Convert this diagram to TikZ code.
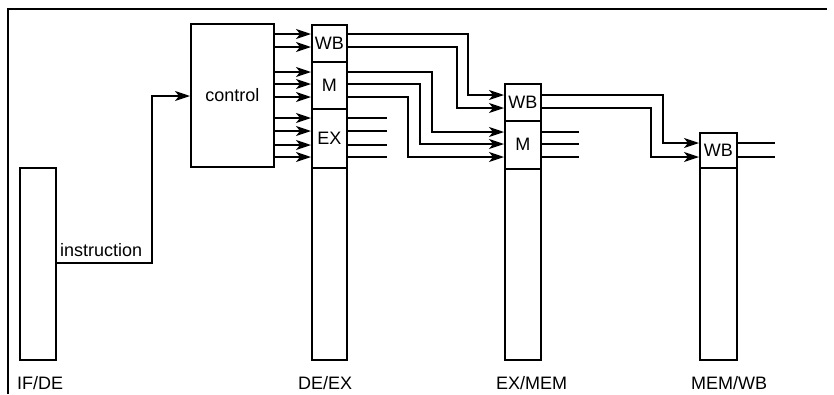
\documentclass[tikz,border=0pt]{standalone}
\usepackage{fontspec}
\setmainfont{Liberation Sans}
\usetikzlibrary{arrows.meta}
\begin{document}
\begin{tikzpicture}[x=1pt,y=-1pt,
  ln/.style={line width=1.6pt},
  box/.style={draw,line width=1.6pt,inner sep=0pt,anchor=north west,rectangle,font=\fontsize{18}{20}\selectfont},
  lbl/.style={font=\fontsize{18}{20}\selectfont,inner sep=0pt},
  arr/.style={ln,-{Stealth[length=15pt,width=10pt,inset=4pt]}}]
\useasboundingbox (0,0) rectangle (834,394);
% frame
\draw[ln] (8,394) -- (8,9) -- (827,9);
% IF/DE
\node[box,minimum width=36pt,minimum height=192pt] (ifde) at (19,167) {};
% control
\node[box,minimum width=83pt,minimum height=143pt] (ctrl) at (190,23) {control};
% DE/EX
\node[box,minimum width=35pt,minimum height=37pt] (dewb) at (311,24) {WB};
\node[box,minimum width=35pt,minimum height=47pt] (dem) at (311,61) {M};
\node[box,minimum width=35pt,minimum height=59pt] (dex) at (311,108) {EX};
\node[box,minimum width=35pt,minimum height=192pt] (decol) at (311,167) {};
% EX/MEM
\node[box,minimum width=36pt,minimum height=37pt] (emwb) at (504,83) {WB};
\node[box,minimum width=36pt,minimum height=48pt] (emm) at (504,120) {M};
\node[box,minimum width=36pt,minimum height=191pt] (emcol) at (504,168) {};
% MEM/WB
\node[box,minimum width=37pt,minimum height=35pt] (mwwb) at (699,132) {WB};
\node[box,minimum width=37pt,minimum height=192pt] (mwcol) at (699,167) {};
% labels
\node[lbl,anchor=west] (l1) at (17,383) {IF/DE};
\node[lbl,anchor=west] (l2) at (298,383) {DE/EX};
\node[lbl,anchor=west] (l3) at (496,383) {EX/MEM};
\node[lbl,anchor=west] (l4) at (691,383) {MEM/WB};
% instruction
\draw[arr] (ifde.east |- 0,263) -- (152,263) -- (152,96) -- (ctrl.west |- 0,96);
\node[lbl,anchor=base west] (instr) at (60,256) {instruction};
% control -> DE/EX
\foreach \y in {34,47} \draw[arr] (ctrl.east |- 0,\y) -- (dewb.west |- 0,\y);
\foreach \y in {72,84,97} \draw[arr] (ctrl.east |- 0,\y) -- (dem.west |- 0,\y);
\foreach \y in {118,131,145,157} \draw[arr] (ctrl.east |- 0,\y) -- (dex.west |- 0,\y);
% DE/EX -> EX/MEM
\draw[arr] (dewb.east |- 0,34) -- (468,34) -- (468,95) -- (emwb.west |- 0,95);
\draw[arr] (dewb.east |- 0,47) -- (457,47) -- (457,108) -- (emwb.west |- 0,108);
\draw[arr] (dem.east |- 0,72) -- (432,72) -- (432,132) -- (emm.west |- 0,132);
\draw[arr] (dem.east |- 0,84) -- (420,84) -- (420,144) -- (emm.west |- 0,144);
\draw[arr] (dem.east |- 0,97) -- (408,97) -- (408,157) -- (emm.west |- 0,157);
\foreach \y in {118,131,145,157} \draw[ln] (dex.east |- 0,\y) -- +(39,0);
% EX/MEM -> MEM/WB
\draw[arr] (emwb.east |- 0,95) -- (663,95) -- (663,143) -- (mwwb.west |- 0,143);
\draw[arr] (emwb.east |- 0,108) -- (651,108) -- (651,157) -- (mwwb.west |- 0,157);
\foreach \y in {132,144,157} \draw[ln] (emm.east |- 0,\y) -- +(37,0);
% MEM/WB out
\foreach \y in {143,157} \draw[ln] (mwwb.east |- 0,\y) -- +(37,0);
\end{tikzpicture}
\end{document}
